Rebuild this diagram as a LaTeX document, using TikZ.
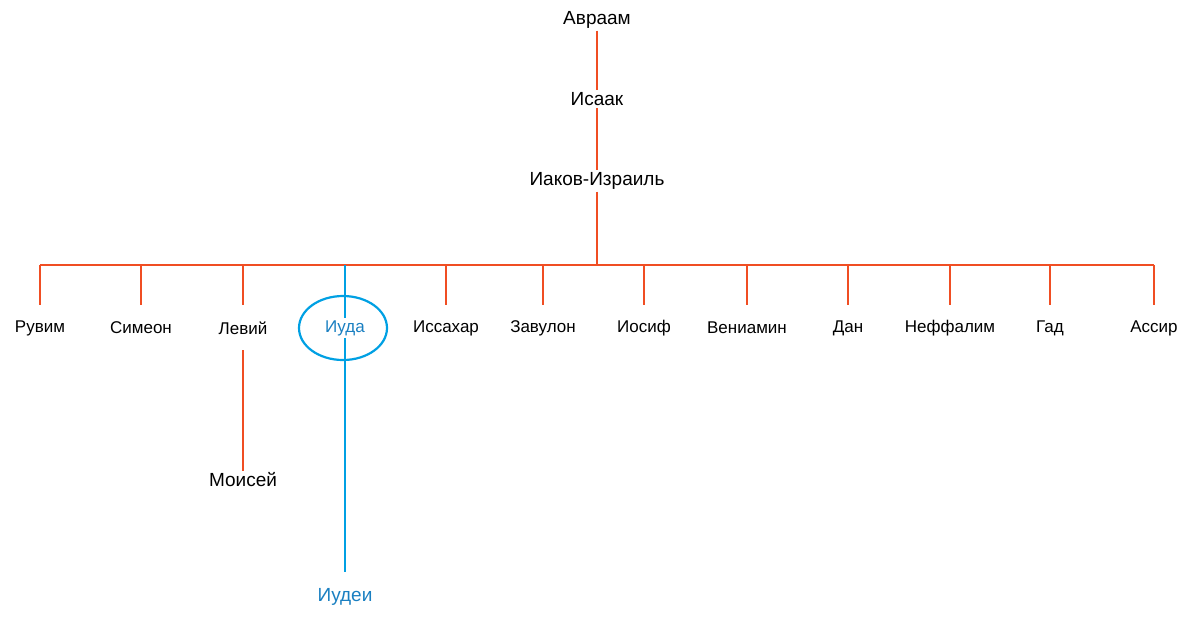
\documentclass[tikz,border=0pt]{standalone}
\usepackage{fontspec}
\usetikzlibrary{shapes.geometric}
\setmainfont{Liberation Sans}
\definecolor{tree}{HTML}{F04E23}
\definecolor{bl}{HTML}{00A0E3}
\definecolor{blt}{HTML}{1A7FC1}
\begin{document}
\begin{tikzpicture}[x=1pt,y=-1pt,
  lbl/.style={font=\fontsize{17}{20}\selectfont, inner sep=2pt},
  big/.style={font=\fontsize{19}{22}\selectfont, inner sep=2pt},
  ln/.style={draw=tree, line width=2.2pt},
  bln/.style={draw=bl, line width=2.2pt}]
\useasboundingbox (0,0) rectangle (1194,622);
\node[big] (a) at (597,20) {Авраам};
\node[big] (i) at (597,99) {Исаак};
\node[big] (j) at (597,181) {Иаков-Израиль};
\coordinate (h) at (597,265);
\draw[ln] (a.south) -- (i.north);
\draw[ln] (i.south) -- (j.north);
\draw[ln] (j.south) -- (h);
\draw[ln] (40,265) -- (1154,265);
\foreach \x/\n/\t in {40/c1/Рувим,141/c2/Симеон,243/c3/Левий,446/c5/Иссахар,543/c6/Завулон,644/c7/Иосиф,747/c8/Вениамин,848/c9/Дан,950/c10/Неффалим,1050/c11/Гад,1154/c12/Ассир}{
  \node[lbl] (\n) at (\x,328) {\t};
  \coordinate (t\n) at (\x,265);
  \draw[ln] (t\n) -- (\x,305);
}
\node[big] (m) at (243,480) {Моисей};
\draw[ln] (243,350) -- (m.north);
\node[lbl, text=blt] (c4) at (345,328) {Иуда};
\node[draw=bl, line width=2.2pt, ellipse, minimum width=88pt, minimum height=64pt] (e) at (343,328) {};
\coordinate (t4) at (345,265);
\node[big, text=blt] (u) at (345,597) {Иудеи};
\draw[bln] (t4) -- (c4.north);
\draw[bln] (c4.south) -- (345,572);
\end{tikzpicture}
\end{document}
